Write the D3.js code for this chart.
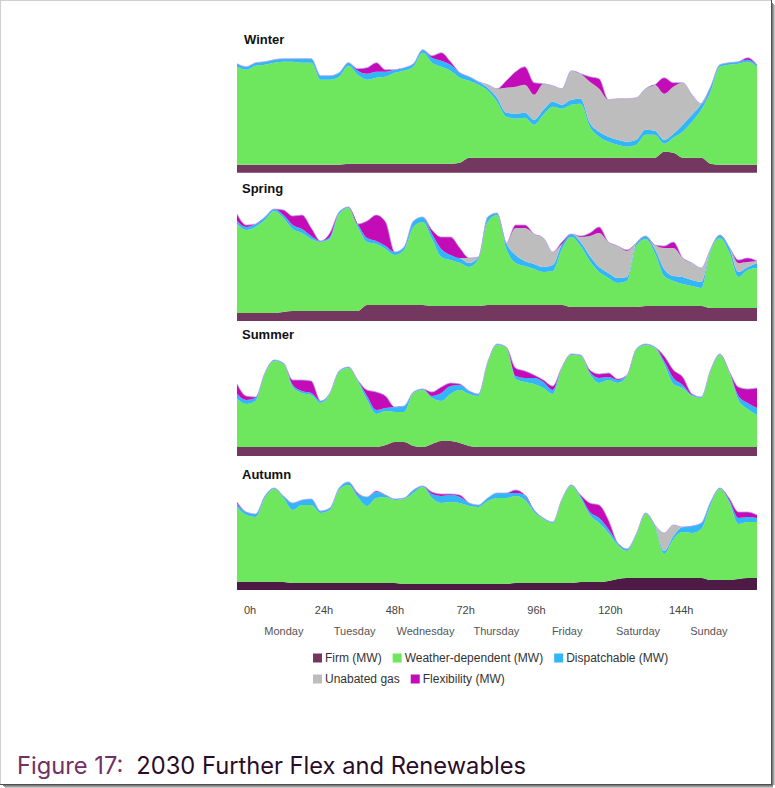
<!DOCTYPE html>
<html>
<head>
<meta charset="utf-8">
<title>2030 Further Flex and Renewables</title>
<style>
body { margin: 0; background: #fff; }
text { font-family: "Liberation Sans", Arial, sans-serif; }
</style>
</head>
<body>
<script src="https://d3js.org/d3.v7.min.js"></script>
<script>
// hour of the week for every sample (3-hourly read-off)
var hours = [0,3,6,9,12,15,18,21,24,27,30,33,36,39,42,45,48,51,54,57,60,63,66,69,72,75,78,81,
  84,87,90,93,96,99,102,105,108,111,114,117,120,123,126,129,132,135,138,141,144,147,150,153,156,159,162,165,168];

var seriesKeys = ["firm", "weather", "dispatchable", "gas", "flex"];
var seriesNames = ["Firm (MW)", "Weather-dependent (MW)", "Dispatchable (MW)", "Unabated gas", "Flexibility (MW)"];
var seriesColors = ["#74375f", "#6ee75e", "#33b6f7", "#bdbdbd", "#c40bb8"];

var hourTicks = [0, 24, 48, 72, 96, 120, 144];
var hourLabels = ["0h", "24h", "48h", "72h", "96h", "120h", "144h"];
var dayLabels = ["Monday", "Tuesday", "Wednesday", "Thursday", "Friday", "Saturday", "Sunday"];

// ---- Winter (MW)
var winterFirm = [4000,4000,4000,4000,4000,4000,4000,4000,4000,4000,4000,4000,
  4500,4500,4500,4500,4500,4500,4500,4500,4500,4500,4500,4500,
  5000,7500,7500,7500,7500,7500,7500,7500,7500,7500,7500,7500,
  7500,7500,7500,7500,7500,7500,7500,7500,7500,7500,10500,10000,
  7500,7500,7500,4500,4000,4000,4000,4000,4000];
var winterWeather = [49000,47500,49500,50000,51000,51500,51500,51000,51000,42500,42500,44000,
  49000,44500,42000,43000,43500,45500,46500,48500,55500,50500,48500,46500,
  42500,38500,36500,33500,28000,20500,19500,20000,16500,21500,25500,24500,
  26500,27000,15500,10500,8000,6500,5500,6500,11500,11500,4000,7500,
  13000,18000,24000,36000,49000,50000,50500,51500,49000];
var winterDispatchable = [1500,1500,1500,1500,1500,1500,1500,2000,2000,2000,2000,2000,
  1500,2000,3000,3000,2500,1500,1500,1500,1500,2500,3000,3000,
  2500,2000,1500,1500,2000,2000,2500,2500,2500,2500,2500,2000,
  2500,2500,2000,2500,2500,2500,2500,2500,2500,2000,2000,2000,
  3500,3500,3000,2500,1000,1000,1000,1000,1000];
var winterGas = [0,0,0,0,0,0,0,0,0,0,0,0,
  0,0,0,0,0,0,0,0,0,0,0,0,
  0,0,0,1500,4500,12500,13500,14000,12500,13000,8000,8000,
  14500,12500,20500,21500,18500,20500,21500,21000,20500,23000,23000,23500,
  21000,10000,0,0,0,0,0,0,0];
var winterFlex = [0,0,0,0,0,0,0,0,0,0,0,0,
  0,1000,3000,4500,1000,0,0,0,0,1000,4000,1500,
  0,0,0,0,0,3500,7500,9000,6000,0,0,0,
  0,0,2500,5000,0,0,0,0,0,0,8000,2000,
  0,0,0,0,0,0,0,1000,0];

// ---- Spring (MW)
var springFirm = [4000,4000,4000,4000,4000,4500,5000,5000,5000,5000,5000,5000,
  5000,5000,8000,8000,8000,8000,8000,8000,8000,7500,7500,7500,
  7500,7500,7500,8000,8000,8000,8000,8000,8000,8000,8000,8000,
  7000,7000,7000,7000,7000,7000,7000,7000,7500,7500,7500,7500,
  7500,7500,7500,6500,6500,6500,6500,6500,6500];
var springWeather = [44500,41500,43000,46500,51000,47000,41000,39000,36000,34500,36000,48500,
  51500,42000,31500,30500,28000,25000,27500,39000,41500,33500,24500,23000,
  21500,19500,23500,41500,45000,28000,21000,19500,18000,16500,17000,28000,
  35000,30500,23000,17500,14500,12000,13000,30500,33500,26500,15000,12500,
  11000,10000,9000,28500,35000,28000,15500,19000,20000];
var springDispatchable = [1500,1500,1500,1500,1000,1500,2000,2000,1500,500,1000,1000,
  500,1500,2000,1500,1500,1500,1500,3000,2500,2500,4000,2500,
  2500,2000,1000,2500,1000,3000,4000,2500,2500,2500,3000,2500,
  1500,2000,2500,2500,2500,2500,2000,1500,1500,2000,3500,2500,
  3500,3000,3000,1000,1500,2500,2500,1500,2500];
var springGas = [0,0,0,0,0,0,0,0,0,0,0,0,
  0,0,0,0,0,0,0,0,0,0,0,0,
  0,2500,0,0,0,0,13500,16500,15000,14500,6500,0,
  0,2500,10000,17000,15500,16000,13000,0,0,2000,10500,14000,
  9500,8500,7000,0,0,0,4500,2500,1000];
var springFlex = [3500,1000,0,0,0,2500,4500,7000,4000,0,2000,0,
  0,0,8500,13000,12000,0,0,0,0,2000,6000,9000,
  5000,0,0,0,0,0,1500,1500,0,0,0,1000,
  0,500,1500,3000,0,0,500,0,0,0,1000,3000,
  0,0,0,0,0,0,1500,2000,0];

// ---- Summer (MW)
var summerFirm = [4500,4500,4500,4500,4500,4500,4500,4500,4500,4500,4500,4500,
  4500,4500,4500,4500,5500,7000,7000,5000,4500,6000,7500,7500,
  6500,5000,4500,4500,4500,4500,4500,4500,4500,4500,4500,4500,
  4500,4500,4500,4500,4500,4500,4500,4500,4500,4500,4500,4500,
  4500,4500,4500,4500,4500,4500,4500,4500,4500];
var summerWeather = [24000,21500,23000,36500,43000,41500,30000,27000,26000,22000,26500,37500,
  39500,33000,23500,16500,17000,15000,15000,26500,28500,23000,20000,23500,
  26500,26000,25500,42000,51000,49500,34000,32500,31500,29500,26500,39500,
  46000,45500,36500,32000,33500,32000,35500,48500,51000,49500,41500,31500,
  29500,25500,24500,38000,46000,37500,23500,19000,16000];
var summerDispatchable = [2500,2000,1500,500,500,500,1000,1000,1000,1000,500,500,
  500,500,2000,2000,1500,2500,3000,500,500,1000,4000,4000,
  2500,1500,1000,500,500,500,1500,2000,3000,3000,2000,500,
  500,500,1000,2500,1500,1500,500,500,500,500,1500,3000,
  1500,500,500,500,500,500,2000,3000,3500];
var summerGas = [0,0,0,0,0,0,0,0,0,0,0,0,
  0,0,0,0,0,0,0,0,0,0,0,0,
  0,0,0,0,0,0,0,0,0,0,0,0,
  0,0,0,0,0,0,0,0,0,0,0,0,
  0,0,0,0,0,0,0,0,0];
var summerFlex = [5000,2000,500,0,0,0,2500,5500,6000,0,0,0,
  0,0,3000,9000,6000,0,0,0,0,2000,3000,1500,
  500,0,0,0,0,0,4000,3500,1500,1000,2000,0,
  0,0,1000,2000,2000,500,0,0,0,0,2500,4000,
  4000,500,0,0,0,0,4500,7000,10000];

// ---- Autumn (MW)
var autumnFirm = [4000,4000,4000,4000,4000,4000,3500,3500,3500,3500,3500,3500,
  3500,3500,3500,3500,3500,3500,3000,3000,3000,3000,3000,3000,
  3000,3000,3000,3000,3000,3000,3500,3500,3500,3500,3500,3500,
  3500,4000,4000,4000,4500,5500,6000,6000,6000,6000,6000,6000,
  6000,6000,6000,5000,5000,5000,5500,6000,6000];
var autumnWeather = [37500,33500,32500,42000,46500,42000,36500,39000,39000,35000,36500,46500,
  49000,43000,38500,42500,43000,41500,42500,45500,48500,43000,40500,41000,
  40500,39000,38500,41500,43000,43000,43500,41500,35500,32000,30000,41500,
  48500,42000,33500,29500,24000,17000,13500,21500,32000,25500,12000,19500,
  23000,22500,24500,37500,45500,39000,27500,28000,28000];
var autumnDispatchable = [1500,1500,1500,1000,500,1000,3500,2500,3000,1000,1000,1000,
  1500,1500,4500,3000,1000,500,500,1500,500,2000,3500,3500,
  3000,1500,1000,1500,2500,2500,1500,2500,1000,500,500,500,
  500,1000,1500,2500,2000,1000,1000,500,500,1000,1500,1500,
  2500,3500,3000,1500,500,1000,3000,2500,2000];
var autumnGas = [0,0,0,0,0,0,0,0,0,0,0,0,
  0,0,0,0,0,0,0,0,0,0,0,0,
  0,0,0,0,0,0,0,0,0,0,0,0,
  0,0,0,0,0,0,0,0,0,0,9000,5500,
  0,0,0,0,0,0,0,0,0];
var autumnFlex = [1000,0,0,0,0,0,0,0,0,0,0,0,
  0,500,0,500,0,0,0,0,0,1000,1000,500,
  1000,0,0,0,0,0,1500,0,0,0,0,0,
  0,500,4500,6500,4500,0,0,0,0,0,0,0,
  0,0,0,0,0,1000,3000,2500,1500];

var seasons = [
  { name: "Winter", bottom: 172.7, titleX: 244, titleY: 44, firmColor: "#74375f",
    values: [winterFirm, winterWeather, winterDispatchable, winterGas, winterFlex] },
  { name: "Spring", bottom: 321, titleX: 242, titleY: 193, firmColor: "#74375f",
    values: [springFirm, springWeather, springDispatchable, springGas, springFlex] },
  { name: "Summer", bottom: 456, titleX: 242, titleY: 339, firmColor: "#74375f",
    values: [summerFirm, summerWeather, summerDispatchable, summerGas, summerFlex] },
  { name: "Autumn", bottom: 590, titleX: 242, titleY: 479, firmColor: "#4e1a46",
    values: [autumnFirm, autumnWeather, autumnDispatchable, autumnGas, autumnFlex] }
];

var width = 775,
    height = 788;

var svg = d3.select("body").append("svg")
    .attr("width", width)
    .attr("height", height);

// page frame with a little drop shadow
svg.append("rect").attr("width", width).attr("height", height).attr("fill", "#fff");
var shadow = ["#7a7a7a", "#a0a0a0", "#c4c4c4", "#e2e2e2"];
shadow.forEach(function(c, i) {
  svg.append("rect").attr("x", 772 + i).attr("y", 3 + i).attr("width", 1).attr("height", 782 - i).attr("fill", c);
  svg.append("rect").attr("x", 3 + i).attr("y", 785 + i).attr("width", 770 - i).attr("height", 1).attr("fill", c);
});
svg.append("rect").attr("x", 0.5).attr("y", 0.5).attr("width", 771).attr("height", 784)
    .attr("fill", "none").attr("stroke", "#cfcfcf");
svg.append("line").attr("x1", 771.5).attr("x2", 771.5).attr("y1", 0).attr("y2", 785).attr("stroke", "#505050");
svg.append("line").attr("x1", 0).attr("x2", 772).attr("y1", 784.5).attr("y2", 784.5).attr("stroke", "#505050");

var x = d3.scaleLinear().domain([0, 168]).range([237, 757]);

var stack = d3.stack().keys(seriesKeys);

seasons.forEach(function(s) {
  var y = d3.scaleLinear().domain([0, 65000]).range([s.bottom, s.bottom - 130]);

  var rows = hours.map(function(h, i) {
    var r = { h: h };
    seriesKeys.forEach(function(k, j) { r[k] = s.values[j][i]; });
    return r;
  });
  var layers = stack(rows);

  var area = d3.area()
      .curve(d3.curveMonotoneX)
      .x(function(d) { return x(d.data.h); })
      .y0(function(d) { return y(d[0]); })
      .y1(function(d) { return y(d[1]); });

  var g = svg.append("g").attr("class", "panel");

  g.selectAll("path.layer")
    .data(layers)
    .enter().append("path")
      .attr("class", "layer")
      .attr("fill", function(d, i) { return i === 0 ? s.firmColor : seriesColors[i]; })
      .attr("d", area);

  // thin lavender edge along the top of the stack
  var top = layers[layers.length - 1];
  g.append("path")
      .datum(top)
      .attr("fill", "none")
      .attr("stroke", "#b7a0ea")
      .attr("stroke-width", 0.8)
      .attr("d", d3.line()
        .curve(d3.curveMonotoneX)
        .x(function(d) { return x(d.data.h); })
        .y(function(d) { return y(d[1]); }));

  g.append("text")
      .attr("x", s.titleX)
      .attr("y", s.titleY)
      .attr("font-size", "13px")
      .attr("font-weight", "bold")
      .attr("fill", "#111")
      .text(s.name);
});

// hour / day labels under the panels
var axisX = d3.scaleLinear().domain([0, 144]).range([244, 669]);

svg.append("g").selectAll("text")
  .data(hourTicks)
  .enter().append("text")
    .attr("x", function(d) { return axisX(d); })
    .attr("y", 614)
    .attr("font-size", "11px")
    .attr("fill", "#444")
    .text(function(d, i) { return hourLabels[i]; });

svg.append("g").selectAll("text")
  .data(dayLabels)
  .enter().append("text")
    .attr("x", function(d, i) { return axisX(hourTicks[i] + 13.5); })
    .attr("y", 635)
    .attr("text-anchor", "middle")
    .attr("font-size", "11px")
    .attr("fill", "#555")
    .text(function(d) { return d; });

// legend, two rows
var legendRows = [[0, 1, 2], [3, 4]];
legendRows.forEach(function(row, r) {
  var lx = 313, ly = 658 + r * 21;
  row.forEach(function(k) {
    svg.append("rect")
        .attr("x", lx).attr("y", ly - 4.5)
        .attr("width", 9).attr("height", 9)
        .attr("fill", seriesColors[k]);
    var t = svg.append("text")
        .attr("x", lx + 12).attr("y", ly + 4.3)
        .attr("font-size", "12px")
        .attr("fill", "#333")
        .text(seriesNames[k]);
    lx += 12 + t.node().getComputedTextLength() + 11;
  });
});

// caption
var cap = svg.append("text")
    .attr("x", 17)
    .attr("y", 774)
    .attr("font-size", "21px")
    .style("font-family", "Inter, 'Noto Sans', sans-serif");
cap.append("tspan").attr("fill", "#733062").text("Figure 17:");
cap.append("tspan").attr("fill", "#2a0c28").attr("dx", 13).text("2030 Further Flex and Renewables");
var capW = cap.node().getComputedTextLength() + 13;
cap.attr("font-size", (21 * 511 / capW).toFixed(2) + "px");
</script>
</body>
</html>
